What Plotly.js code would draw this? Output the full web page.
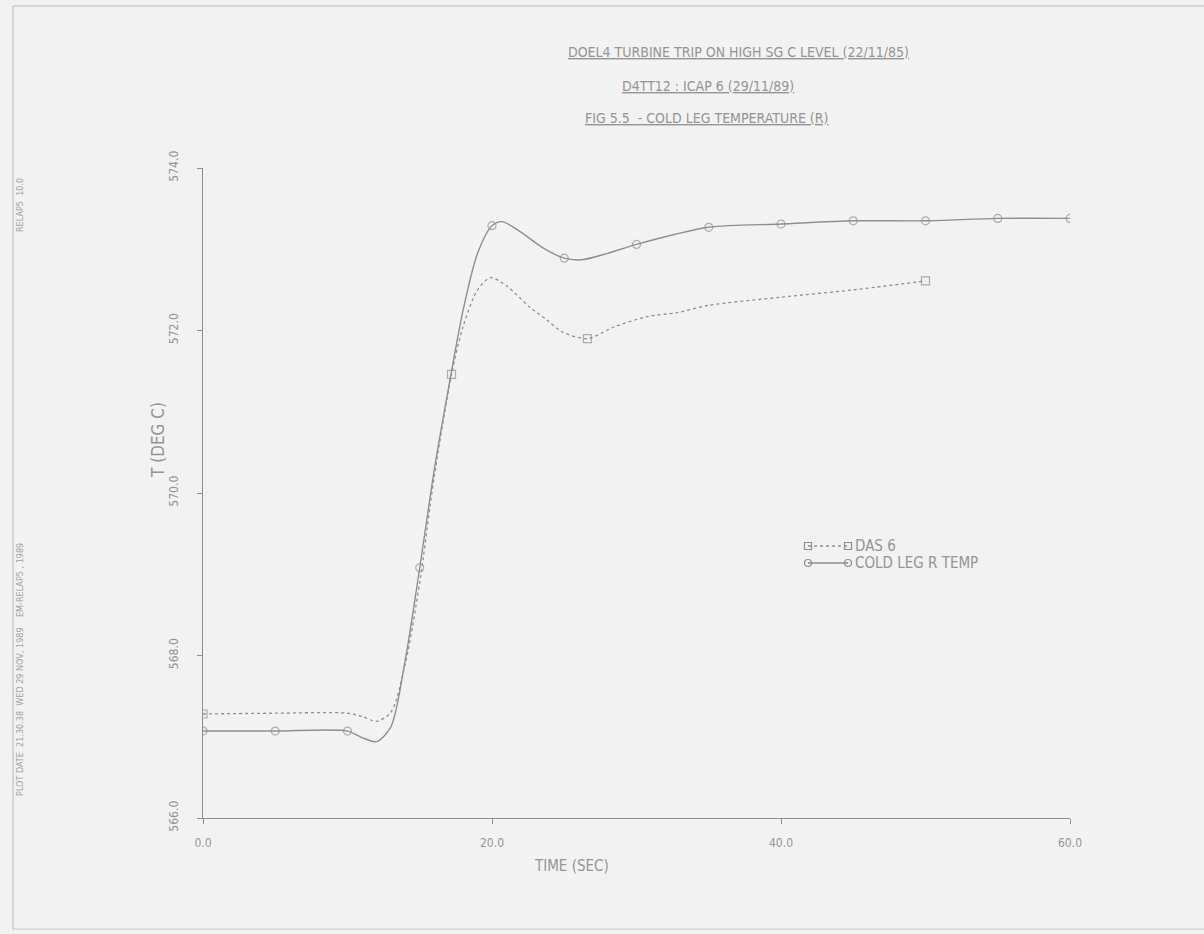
<!DOCTYPE html>
<html>
<head>
<meta charset="utf-8">
<script src="https://cdn.plot.ly/plotly-3.0.1.min.js"></script>
<style>
  html, body { margin: 0; padding: 0; background: #f2f2f2; }
  #chart { width: 1204px; height: 934px; }
</style>
</head>
<body>
<div id="chart"></div>
<script>
// Cold leg R temperature, RELAP calculation (circles every 5 s)
const timeCalc = [0, 5, 10, 11, 12, 13, 14, 15, 16, 17, 18, 19, 20, 20.7, 22, 23.5, 25, 26.2, 28, 30, 35, 40, 45, 50, 55, 60];
const tempCalc = [567.07, 567.07, 567.07, 566.99, 566.94, 567.12, 567.95, 569.08, 570.28, 571.30, 572.25, 572.95, 573.29, 573.34, 573.21, 573.02, 572.89, 572.87, 572.95, 573.06, 573.27, 573.31, 573.35, 573.35, 573.38, 573.38];
const markCalc = [0, 5, 10, 15, 20, 25, 30, 35, 40, 45, 50, 55, 60];

// DAS 6 plant measurement
const timeDas = [0, 5, 10, 11, 12, 13, 14, 15, 16, 17.2, 18, 19, 19.9, 21, 22.6, 23.8, 24.9, 26.6, 28.4, 30.7, 32.8, 35, 40, 45, 50];
const tempDas = [567.28, 567.29, 567.29, 567.25, 567.19, 567.30, 567.90, 568.90, 570.20, 571.46, 572.05, 572.50, 572.65, 572.55, 572.29, 572.13, 571.98, 571.90, 572.04, 572.17, 572.22, 572.31, 572.41, 572.50, 572.61];
const markDas = [0, 17.2, 26.6, 50];

const xTicks = [0, 20, 40, 60];
const yTicks = [566, 568, 570, 572, 574];

const titleLines = [
  "DOEL4 TURBINE TRIP ON HIGH SG C LEVEL (22/11/85)",
  "D4TT12 : ICAP 6 (29/11/89)",
  "FIG 5.5  - COLD LEG TEMPERATURE (R)"
];
const seriesNames = ["DAS 6", "COLD LEG R TEMP"];
const xTitle = "TIME (SEC)";
const yTitle = "T (DEG C)";
const sideNotes = ["PLOT DATE  21.30.38  WED 29 NOV, 1989    EM-RELAP5 , 1989", "RELAP5  10.0"];

// plotting frame in page pixels
const L = 203, R = 1070, T = 168, B = 818;
const W = 1204, H = 934;
const px = x => (x - L) / (R - L);
const py = y => (B - y) / (B - T);

const ink = "#8e8e8e";
const textInk = "#949494";
const FONT = "Liberation Sans Narrow, DejaVu Sans Condensed, Liberation Sans, sans-serif";

const sizes = (xs, marks) => xs.map(v => marks.includes(v) ? 8 : 0);

const traces = [
  {
    x: timeDas, y: tempDas, mode: "lines+markers", name: seriesNames[0],
    line: { color: ink, width: 1.3, dash: "dot", shape: "spline", smoothing: 0.8 },
    marker: { symbol: "square-open", size: sizes(timeDas, markDas), color: ink, line: { width: 1.2 } },
    showlegend: false, hoverinfo: "x+y"
  },
  {
    x: timeCalc, y: tempCalc, mode: "lines+markers", name: seriesNames[1],
    line: { color: ink, width: 1.4, shape: "spline", smoothing: 0.8 },
    marker: { symbol: "circle-open", size: sizes(timeCalc, markCalc), color: ink, line: { width: 1.2 } },
    showlegend: false, hoverinfo: "x+y"
  },
  // key samples, drawn on a pixel-space overlay
  {
    x: [808, 848], y: [546, 546], xaxis: "x2", yaxis: "y2", mode: "lines+markers",
    line: { color: ink, width: 1.3, dash: "dot" },
    marker: { symbol: "square-open", size: 7, color: ink, line: { width: 1.2 } },
    showlegend: false, hoverinfo: "skip"
  },
  {
    x: [808, 848], y: [563, 563], xaxis: "x2", yaxis: "y2", mode: "lines+markers",
    line: { color: ink, width: 1.4 },
    marker: { symbol: "circle-open", size: 7, color: ink, line: { width: 1.2 } },
    showlegend: false, hoverinfo: "skip"
  }
];

const ann = (text, x, y, opts) => Object.assign({
  text: text, xref: "paper", yref: "paper", x: px(x), y: py(y),
  showarrow: false, xanchor: "center", yanchor: "middle",
  font: { family: FONT, size: 15, color: textInk }
}, opts || {});

const titleFont = { family: FONT, size: 14, color: textInk };

const annotations = [
  ann("<u>" + titleLines[0] + "</u>", 738, 52, { font: titleFont }),
  ann("<u>" + titleLines[1] + "</u>", 708, 86, { font: titleFont }),
  ann("<u>" + titleLines[2] + "</u>", 706, 118, { font: titleFont }),
  ann(xTitle, 571, 866, { font: { family: FONT, size: 15, color: textInk } }),
  ann(yTitle, 158, 440, { textangle: -90, font: { family: FONT, size: 17, color: textInk } }),
  ann(seriesNames[0], 853, 546, { xanchor: "left", font: { family: FONT, size: 15, color: textInk } }),
  ann(seriesNames[1], 853, 563, { xanchor: "left", font: { family: FONT, size: 15, color: textInk } }),
  ann(sideNotes[0], 20, 670, { textangle: -90, font: { family: FONT, size: 9, color: "#a0a0a0" } }),
  ann(sideNotes[1], 20, 205, { textangle: -90, font: { family: FONT, size: 9, color: "#a0a0a0" } })
];

// faint outer frame of the plot sheet
const shapes = [
  { type: "line", xref: "paper", yref: "paper", x0: px(13), x1: px(W + 5), y0: py(6), y1: py(6),
    line: { color: "#b8b8b8", width: 1 } },
  { type: "line", xref: "paper", yref: "paper", x0: px(13), x1: px(13), y0: py(6), y1: py(929),
    line: { color: "#b8b8b8", width: 1 } },
  { type: "line", xref: "paper", yref: "paper", x0: px(13), x1: px(W + 5), y0: py(929), y1: py(929),
    line: { color: "#c8c8c8", width: 1 } }
];

const layout = {
  width: W, height: H,
  margin: { l: L, r: W - R, t: T, b: H - B, pad: 0 },
  paper_bgcolor: "#f2f2f2", plot_bgcolor: "#f2f2f2",
  font: { family: FONT, color: textInk },
  xaxis: {
    range: [0, 60], tickvals: xTicks, tickformat: ".1f",
    showgrid: false, zeroline: false, showline: true, linecolor: ink, linewidth: 1.2,
    ticks: "outside", ticklen: 5, tickcolor: ink, tickfont: { family: FONT, size: 12, color: textInk },
    ticklabelstandoff: 8
  },
  yaxis: {
    range: [566, 574], tickvals: yTicks, tickformat: ".1f", tickangle: -90,
    showgrid: false, zeroline: false, showline: true, linecolor: ink, linewidth: 1.2,
    ticks: "outside", ticklen: 5, tickcolor: ink, tickfont: { family: FONT, size: 12, color: textInk },
    ticklabelstandoff: 14
  },
  xaxis2: { overlaying: "x", range: [L, R], visible: false, fixedrange: true },
  yaxis2: { overlaying: "y", range: [B, T], visible: false, fixedrange: true },
  annotations: annotations,
  shapes: shapes,
  showlegend: false
};

Plotly.newPlot("chart", traces, layout, { displayModeBar: false, staticPlot: true });
</script>
</body>
</html>
